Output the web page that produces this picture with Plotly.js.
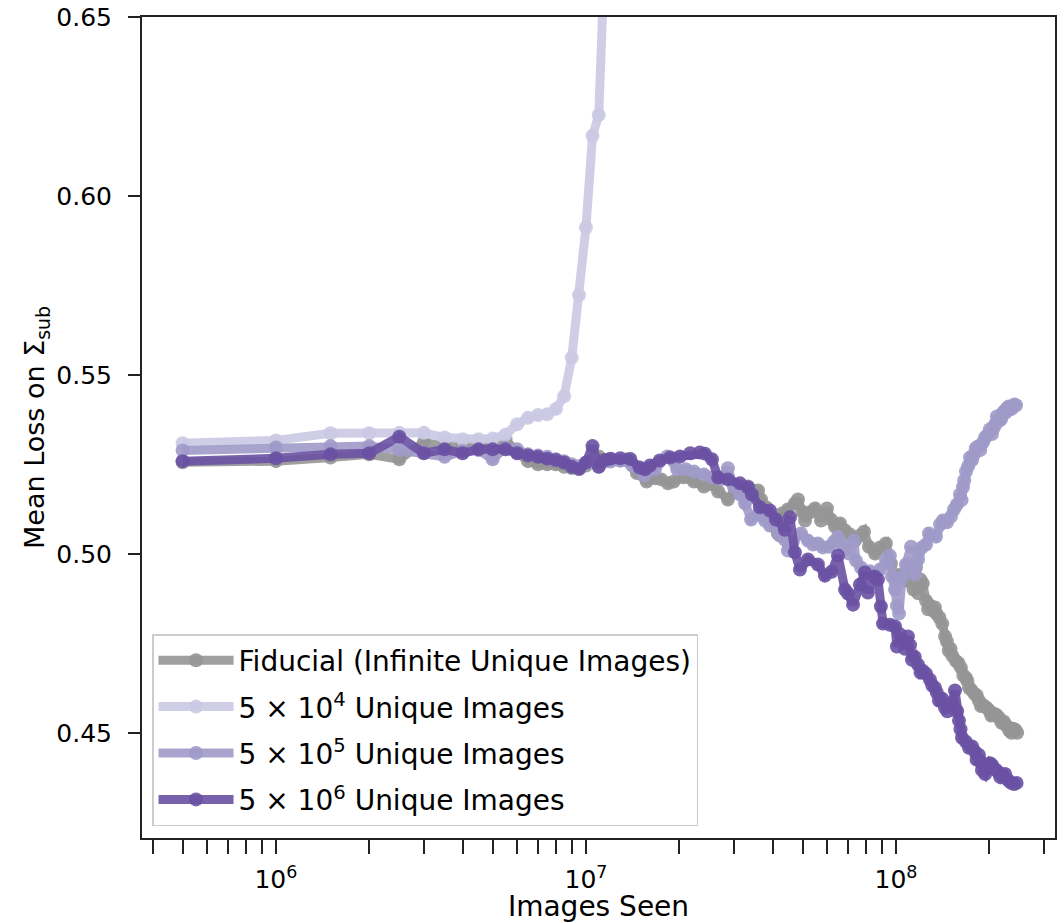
<!DOCTYPE html>
<html>
<head>
<meta charset="utf-8">
<script src="https://cdn.plot.ly/plotly-3.0.1.min.js"></script>
<style>
  html, body { margin: 0; padding: 0; background: #ffffff; }
  #chart { width: 1064px; height: 923px; }
</style>
</head>
<body>
<div id="chart"></div>
<script>
// Mean loss on the substructure set versus number of training images seen.

// Fiducial run (infinite unique images)
const fidX = [5e5,1e6,1.5e6,2e6,2.5e6,3e6,3.5e6,4e6,4.5e6,5e6,5.5e6,6e6,6.5e6,7e6,7.5e6,8e6,8.5e6,9e6,9.5e6,1e7,
  1.05e7,1.1e7,1.2e7,1.29e7,1.36e7,1.46e7,1.57e7,1.67e7,1.75e7,1.84e7,
  1.92e7,2.07e7,2.23e7,2.4e7,2.55e7,2.67e7,2.87e7,3.02e7,3.19e7,3.33e7,
  3.59e7,3.67e7,3.81e7,3.95e7,4.16e7,4.29e7,4.48e7,4.72e7,4.83e7,4.98e7,
  5.09e7,5.28e7,5.48e7,5.73e7,5.99e7,6.17e7,6.36e7,6.6e7,6.85e7,7.1e7,
  7.38e7,7.65e7,7.89e7,8.18e7,8.56e7,8.88e7,9.28e7,9.63e7,
  1.0e8,1.04e8,1.08e8,1.12e8,1.14e8,1.16e8,1.18e8,1.2e8,1.22e8,1.25e8,
  1.27e8,1.29e8,1.32e8,1.335e8,1.35e8,1.38e8,1.41e8,1.44e8,1.46e8,1.48e8,
  1.50e8,1.52e8,1.56e8,1.59e8,1.62e8,1.65e8,1.68e8,1.70e8,1.72e8,1.75e8,
  1.79e8,1.82e8,1.85e8,1.88e8,1.92e8,1.96e8,2.0e8,2.03e8,2.07e8,2.11e8,
  2.15e8,2.19e8,2.23e8,2.27e8,2.32e8,2.36e8,2.39e8,2.43e8,2.46e8];
const fidY = [0.5256,0.5259,0.5269,0.5278,0.5264,0.5311,0.5301,0.5306,0.5301,0.5306,0.5320,0.5283,0.5259,0.5250,0.5250,0.5250,0.5243,0.5240,0.5240,0.5247,
  0.5264,0.5272,0.5264,0.5261,0.5264,0.5226,0.5202,0.5211,0.5208,0.5197,
  0.5202,0.5214,0.5202,0.5188,0.5194,0.5174,0.5152,0.5174,0.5180,0.5188,
  0.5177,0.5152,0.5130,0.5104,0.5057,0.5113,0.5124,0.5141,0.5152,0.5118,
  0.5093,0.5116,0.5127,0.5093,0.5127,0.5096,0.5076,0.5085,0.5065,0.5054,
  0.5037,0.5051,0.5062,0.5020,0.5001,0.5018,0.5029,0.4973,
  0.4934,0.4942,0.4925,0.4942,0.4900,0.4962,0.4890,0.4928,0.4917,0.4869,
  0.4845,0.4855,0.4841,0.4850,0.4833,0.4822,0.4805,0.4769,0.4755,0.4729,
  0.4735,0.4715,0.4701,0.4695,0.4682,0.4660,0.4654,0.4645,0.4626,0.4620,
  0.4609,0.4605,0.4590,0.4575,0.4576,0.4570,0.4562,0.4548,0.4553,0.4550,
  0.4542,0.4528,0.4531,0.4520,0.4506,0.4500,0.4511,0.4508,0.4500];

// 5 x 10^4 unique images
const u4X = [5e5,1e6,1.5e6,2e6,2.5e6,3e6,3.5e6,4e6,4.5e6,5e6,5.5e6,6e6,6.5e6,7e6,7.5e6,8e6,8.5e6,9e6,9.5e6,1e7,
  1.05e7,1.1e7,1.15e7,1.2e7];
const u4Y = [0.5309,0.5317,0.5337,0.5337,0.5338,0.5338,0.5325,0.5320,0.5320,0.5322,0.5333,0.5362,0.5380,0.5388,0.5390,0.5405,0.5440,0.5548,0.5723,0.5912,
  0.6168,0.6226,0.6680,0.7000];

// 5 x 10^5 unique images
const u5X = [5e5,1e6,1.5e6,2e6,2.5e6,3e6,3.5e6,4e6,4.5e6,5e6,5.5e6,6e6,6.5e6,7e6,7.5e6,8e6,8.5e6,9e6,9.5e6,1e7,
  1.05e7,1.1e7,1.2e7,1.29e7,1.41e7,1.54e7,1.67e7,1.83e7,1.97e7,2.1e7,
  2.23e7,2.4e7,2.55e7,2.71e7,2.87e7,3.0e7,3.14e7,3.26e7,3.41e7,3.59e7,
  3.78e7,3.92e7,4.07e7,4.22e7,4.38e7,4.48e7,4.65e7,4.94e7,5.2e7,5.4e7,
  5.6e7,5.81e7,6.08e7,6.31e7,6.5e7,6.75e7,7.05e7,7.32e7,7.43e7,7.71e7,
  7.94e7,8.24e7,8.56e7,8.88e7,9.28e7,9.56e7,9.71e7,9.93e7,1.007e8,1.023e8,
  1.046e8,1.077e8,1.118e8,1.152e8,1.178e8,1.213e8,1.25e8,1.278e8,1.346e8,1.387e8,
  1.418e8,1.461e8,1.505e8,1.539e8,1.573e8,
  1.609e8,1.627e8,1.645e8,1.66e8,1.682e8,1.71e8,1.733e8,1.76e8,1.785e8,1.81e8,
  1.839e8,1.87e8,1.908e8,1.94e8,1.966e8,2.01e8,2.04e8,2.071e8,2.09e8,2.117e8,
  2.15e8,2.182e8,2.2e8,2.23e8,2.26e8,2.281e8,2.31e8,2.332e8,2.36e8,2.385e8,
  2.41e8,2.44e8];
const u5Y = [0.5289,0.5297,0.5301,0.5301,0.5290,0.5283,0.5271,0.5287,0.5290,0.5264,0.5297,0.5292,0.5278,0.5275,0.5271,0.5264,0.5259,0.5250,0.5245,0.5253,
  0.5264,0.5244,0.5258,0.5261,0.5247,0.5219,0.5236,0.5272,0.5236,0.5236,
  0.5230,0.5222,0.5214,0.5208,0.5239,0.5188,0.5166,0.5141,0.5096,0.5110,
  0.5093,0.5079,0.5076,0.5051,0.5040,0.5009,0.5034,0.5057,0.5037,0.5026,
  0.5029,0.5018,0.5020,0.5034,0.5048,0.5023,0.5001,0.5037,0.4981,0.4962,
  0.4945,0.4951,0.4934,0.4956,0.4984,0.4995,0.4937,0.4900,0.4855,0.4833,
  0.4934,0.4970,0.5020,0.4942,0.4984,0.5018,0.5026,0.5057,0.5048,0.5082,
  0.5093,0.5088,0.5104,0.5124,0.5138,
  0.5166,0.5150,0.5186,0.5205,0.5230,0.5245,0.5269,0.5262,0.5278,0.5295,
  0.5300,0.5290,0.5311,0.5325,0.5331,0.5348,0.5335,0.5353,0.5362,0.5384,
  0.5372,0.5376,0.5390,0.5398,0.5395,0.5407,0.5412,0.5409,0.5405,0.5412,
  0.5417,0.5415];

// 5 x 10^6 unique images
const u6X = [5e5,1e6,1.5e6,2e6,2.5e6,3e6,3.5e6,4e6,4.5e6,5e6,5.5e6,6e6,6.5e6,7e6,7.5e6,8e6,8.5e6,9e6,9.5e6,1e7,
  1.05e7,1.1e7,1.15e7,1.2e7,1.29e7,1.39e7,1.49e7,1.55e7,1.61e7,1.73e7,
  1.87e7,2.01e7,2.17e7,2.33e7,2.42e7,2.55e7,2.67e7,2.87e7,3.14e7,3.33e7,
  3.43e7,3.64e7,3.92e7,4.1e7,4.38e7,4.55e7,4.72e7,4.9e7,5.2e7,5.6e7,
  5.9e7,6.2e7,6.5e7,6.85e7,7.0e7,7.27e7,7.65e7,7.94e7,8.12e7,8.56e7,
  8.75e7,8.94e7,9.08e7,9.56e7,9.93e7,
  1.007e8,1.03e8,1.053e8,1.07e8,1.093e8,1.11e8,1.126e8,1.15e8,1.178e8,1.2e8,
  1.222e8,1.25e8,1.287e8,1.31e8,1.336e8,1.355e8,1.376e8,1.41e8,1.439e8,1.465e8,
  1.494e8,1.52e8,1.55e8,1.575e8,1.597e8,1.615e8,1.633e8,1.68e8,1.72e8,1.76e8,
  1.798e8,1.82e8,1.852e8,1.87e8,1.894e8,1.94e8,1.981e8,2.01e8,2.04e8,2.09e8,
  2.133e8,2.17e8,2.197e8,2.25e8,2.297e8,2.35e8,2.402e8,2.45e8];
const u6Y = [0.5259,0.5267,0.5278,0.5281,0.5327,0.5281,0.5292,0.5281,0.5292,0.5292,0.5292,0.5281,0.5275,0.5271,0.5266,0.5262,0.5255,0.5243,0.5237,0.5255,
  0.5301,0.5243,0.5262,0.5266,0.5267,0.5265,0.5241,0.5236,0.5247,0.5261,
  0.5269,0.5272,0.5281,0.5283,0.5280,0.5264,0.5213,0.5208,0.5197,0.5186,
  0.5166,0.5130,0.5121,0.5096,0.5067,0.5102,0.5004,0.4956,0.4984,0.4970,
  0.4939,0.4950,0.4995,0.4900,0.4889,0.4858,0.4914,0.4948,0.4892,0.4936,
  0.4928,0.4853,0.4805,0.4802,0.4797,
  0.4741,0.4775,0.4760,0.4735,0.4769,0.4745,0.4704,0.4712,0.4690,0.4668,
  0.4673,0.4665,0.4648,0.4632,0.4626,0.4612,0.4590,0.4595,0.4570,0.4560,
  0.4578,0.4585,0.4618,0.4560,0.4534,0.4510,0.4486,0.4475,0.4458,0.4462,
  0.4447,0.4425,0.4438,0.4420,0.4396,0.4385,0.4402,0.4415,0.4410,0.4398,
  0.4391,0.4376,0.4382,0.4385,0.4368,0.4360,0.4357,0.4360];

const seriesNames = [
  'Fiducial (Infinite Unique Images)',
  '5 \u00d7 10<sup>4</sup> Unique Images',
  '5 \u00d7 10<sup>5</sup> Unique Images',
  '5 \u00d7 10<sup>6</sup> Unique Images'
];
const seriesColors = ['rgba(149,149,149,0.9)', 'rgba(203,201,227,0.9)', 'rgba(158,154,200,0.9)', 'rgba(106,81,163,0.9)'];

// log-axis ticks: every integer multiple inside the range, labels on decades only
const xTickVals = [4e5,5e5,6e5,7e5,8e5,9e5,1e6,2e6,3e6,4e6,5e6,6e6,7e6,8e6,9e6,1e7,2e7,3e7,4e7,5e7,6e7,7e7,8e7,9e7,1e8,2e8,3e8];
const xTickText = xTickVals.map(v => {
  const e = Math.log10(v);
  return Math.abs(e - Math.round(e)) < 1e-9 ? '10<sup>' + Math.round(e) + '</sup>' : '';
});
const yTickVals = [0.45, 0.50, 0.55, 0.60, 0.65];

const xs = [fidX, u4X, u5X, u6X];
const ys = [fidY, u4Y, u5Y, u6Y];

const traces = xs.map((x, i) => ({
  type: 'scatter',
  mode: 'lines+markers',
  x: x,
  y: ys[i],
  name: seriesNames[i],
  legendgroup: 'g' + i,
  line: { color: seriesColors[i], width: 9 },
  marker: { color: seriesColors[i], size: 14, line: { width: 0 } },
  hoverinfo: 'skip'
}));

const axisLine = '#222222';

const layout = {
  width: 1064,
  height: 923,
  margin: { l: 142, r: 9, t: 17, b: 85 },
  paper_bgcolor: '#ffffff',
  plot_bgcolor: '#ffffff',
  font: { family: 'DejaVu Sans, sans-serif', color: '#000000', size: 25 },
  showlegend: true,
  xaxis: {
    type: 'log',
    range: [5.568, 8.513],
    tickmode: 'array',
    tickvals: xTickVals,
    ticktext: xTickText,
    ticks: 'outside',
    ticklen: 14,
    tickwidth: 2,
    tickcolor: axisLine,
    ticklabelstandoff: 4,
    showline: true,
    linecolor: axisLine,
    linewidth: 2,
    mirror: true,
    showgrid: false,
    zeroline: false,
    tickfont: { size: 25 },
    title: { text: 'Images Seen', font: { size: 28 }, standoff: 7 }
  },
  yaxis: {
    range: [0.4206, 0.65],
    tickmode: 'array',
    tickvals: yTickVals,
    tickformat: '.2f',
    ticks: 'outside',
    ticklen: 12,
    tickwidth: 2,
    tickcolor: axisLine,
    ticklabelstandoff: 11,
    showline: true,
    linecolor: axisLine,
    linewidth: 2,
    mirror: true,
    showgrid: false,
    zeroline: false,
    tickfont: { size: 25 },
    title: { text: 'Mean Loss on \u03a3<sub>sub</sub>', font: { size: 27 }, standoff: 4 }
  },
  legend: {
    x: 0.011,
    y: 0.0146,
    xanchor: 'left',
    yanchor: 'bottom',
    bgcolor: 'rgba(255,255,255,0.8)',
    bordercolor: '#cccccc',
    borderwidth: 1.5,
    font: { size: 28 },
    itemwidth: 75,
    tracegroupgap: 7,
    traceorder: 'grouped'
  }
};

Plotly.newPlot('chart', traces, layout, { staticPlot: true, displayModeBar: false });
</script>
</body>
</html>
